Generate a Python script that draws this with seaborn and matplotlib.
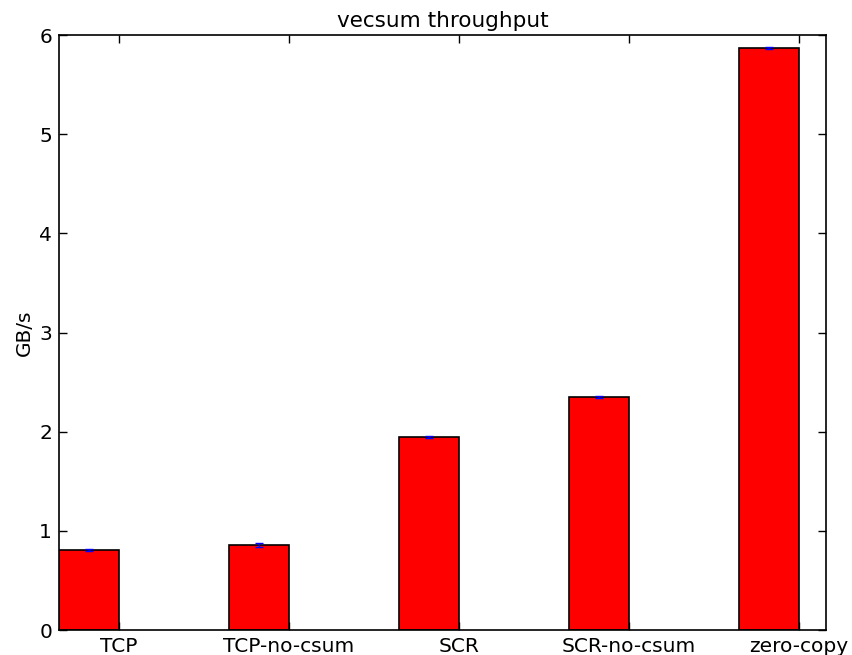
import numpy as np
import matplotlib
matplotlib.use("Agg")
import matplotlib.pyplot as plt
import seaborn as sns

categories = ["TCP", "TCP-no-csum", "SCR", "SCR-no-csum", "zero-copy"]
throughput = [0.806, 0.858, 1.946, 2.350, 5.868]
errors = [0.006, 0.020, 0.006, 0.006, 0.006]

sns.set_theme(style="white")
plt.rcParams["font.family"] = ["DejaVu Sans"]
plt.rcParams["text.color"] = "black"
plt.rcParams["axes.labelcolor"] = "black"
plt.rcParams["xtick.color"] = "black"
plt.rcParams["ytick.color"] = "black"

fig = plt.figure(figsize=(8.52, 6.55), dpi=100)
ax = fig.add_axes([59 / 852, 25 / 655, (826 - 59) / 852, (630 - 35) / 655])

width = 0.35
sns.barplot(x=categories, y=throughput, color="red", width=width,
            edgecolor="black", linewidth=1.2, saturation=1, ax=ax)
pos = np.arange(len(categories))
ax.errorbar(pos, throughput, yerr=errors, fmt="none", ecolor="blue",
            elinewidth=1, capsize=3, capthick=1, zorder=5)

ax.set_xlim(-width / 2, -width / 2 + 4.51)
ax.set_ylim(0, 6)
ax.set_xticks(pos + width / 2)
ax.set_xticklabels(categories, fontsize=14.5)
ax.set_yticks(range(7))
ax.set_yticklabels([str(v) for v in range(7)], fontsize=14.5)
ax.tick_params(direction="in", length=6, width=1, color="black",
               top=True, right=True, left=True, bottom=True, pad=5)
for s in ax.spines.values():
    s.set_color("black")
    s.set_linewidth(1.2)
ax.set_ylabel("GB/s", fontsize=14.5)
ax.set_xlabel("")
ax.set_title("vecsum throughput", fontsize=15.5)

fig.savefig("out.png", dpi=100, facecolor="white")
